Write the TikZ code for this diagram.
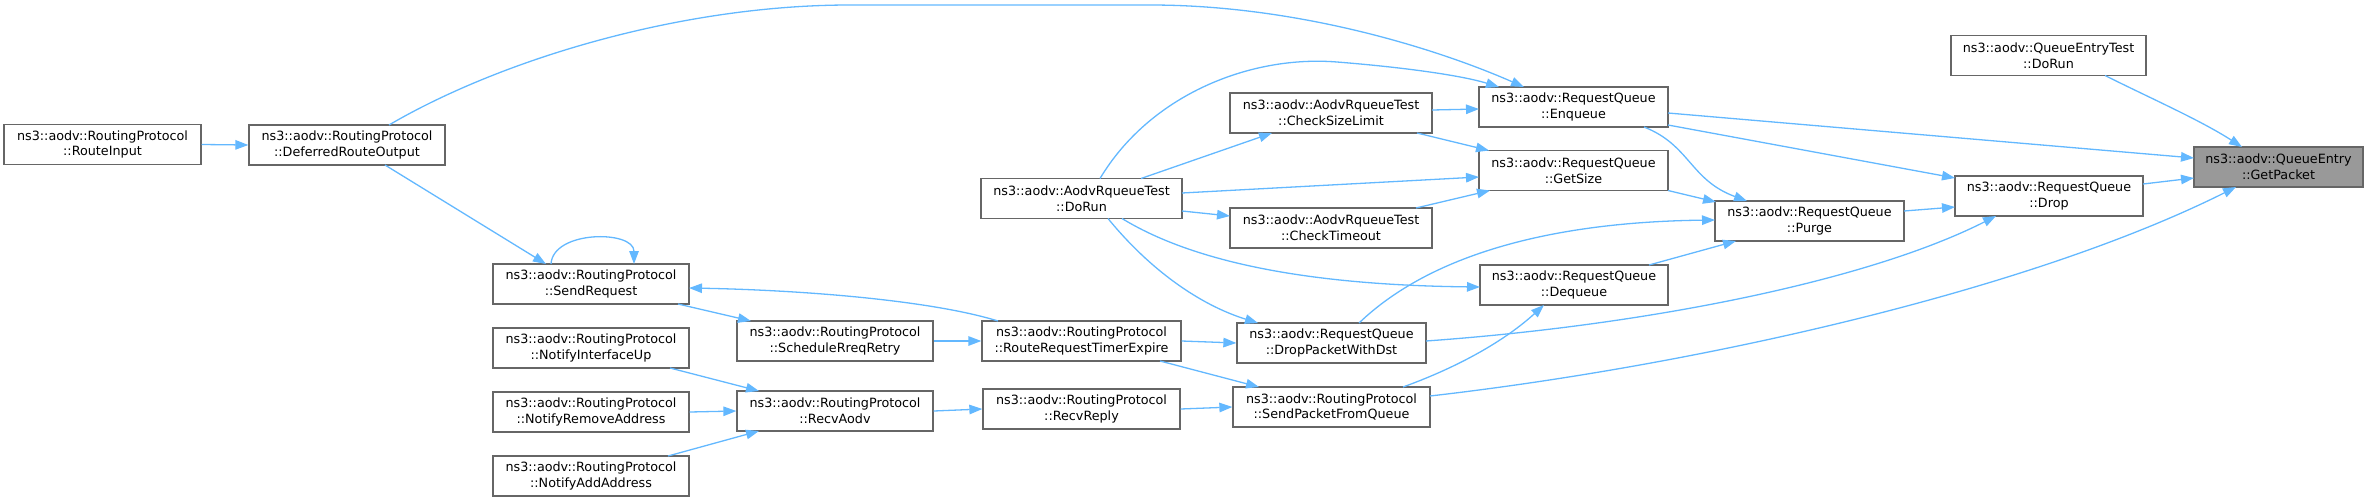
\documentclass[tikz,border=0pt]{standalone}
\usepackage{fontspec}
\setmainfont{DejaVu Sans}
\usetikzlibrary{arrows.meta}
\definecolor{edgeblue}{HTML}{63B8FF}
\definecolor{boxgray}{HTML}{666666}
\definecolor{selgray}{HTML}{999999}
\tikzset{
  fn/.style={draw=boxgray, fill=white, line width=1.3pt, minimum height=40pt, inner sep=0pt, align=center, font=\fontsize{12.75pt}{15.7pt}\selectfont},
  sel/.style={fn, fill=selgray},
  call/.style={draw=edgeblue, line width=1.3pt, -{Triangle[length=13pt,width=9.5pt]}},
}
\begin{document}
\begin{tikzpicture}[x=1pt,y=-1pt]
\useasboundingbox (0,0) rectangle (2369,501);
% nodes
\node[fn, minimum width=197pt] (RI) at (102.5,144.5) {ns3::aodv::RoutingProtocol\\::RouteInput};
\node[fn, minimum width=196pt] (DRO) at (347,145) {ns3::aodv::RoutingProtocol\\::DeferredRouteOutput};
\node[fn, minimum width=196pt] (SR) at (591,284) {ns3::aodv::RoutingProtocol\\::SendRequest};
\node[fn, minimum width=196pt] (NIU) at (591,348) {ns3::aodv::RoutingProtocol\\::NotifyInterfaceUp};
\node[fn, minimum width=196pt] (NRA) at (591,412) {ns3::aodv::RoutingProtocol\\::NotifyRemoveAddress};
\node[fn, minimum width=196pt] (NAA) at (591,476) {ns3::aodv::RoutingProtocol\\::NotifyAddAddress};
\node[fn, minimum width=196pt] (SRR) at (835,341) {ns3::aodv::RoutingProtocol\\::ScheduleRreqRetry};
\node[fn, minimum width=196pt] (RA) at (835,411) {ns3::aodv::RoutingProtocol\\::RecvAodv};
\node[fn, minimum width=201pt] (DR) at (1081.5,198.5) {ns3::aodv::AodvRqueueTest\\::DoRun};
\node[fn, minimum width=199pt] (RRTE) at (1081.5,341) {ns3::aodv::RoutingProtocol\\::RouteRequestTimerExpire};
\node[fn, minimum width=197pt] (RR) at (1081.5,409) {ns3::aodv::RoutingProtocol\\::RecvReply};
\node[fn, minimum width=202pt] (CSL) at (1331,113) {ns3::aodv::AodvRqueueTest\\::CheckSizeLimit};
\node[fn, minimum width=202pt] (CT) at (1331,228) {ns3::aodv::AodvRqueueTest\\::CheckTimeout};
\node[fn, minimum width=189pt] (DPWD) at (1331.5,343) {ns3::aodv::RequestQueue\\::DropPacketWithDst};
\node[fn, minimum width=197pt] (SPFQ) at (1331.5,407) {ns3::aodv::RoutingProtocol\\::SendPacketFromQueue};
\node[fn, minimum width=189pt] (ENQ) at (1573.5,107) {ns3::aodv::RequestQueue\\::Enqueue};
\node[fn, minimum width=189pt] (GS) at (1573.5,170.5) {ns3::aodv::RequestQueue\\::GetSize};
\node[fn, minimum width=188pt] (DQ) at (1574,285) {ns3::aodv::RequestQueue\\::Dequeue};
\node[fn, minimum width=189pt] (PU) at (1809.5,221) {ns3::aodv::RequestQueue\\::Purge};
\node[fn, minimum width=188pt] (DROP) at (2049,196) {ns3::aodv::RequestQueue\\::Drop};
\node[fn, minimum width=195pt] (QET) at (2048.5,55.5) {ns3::aodv::QueueEntryTest\\::DoRun};
\node[sel, minimum width=169pt] (GP) at (2278.5,167) {ns3::aodv::QueueEntry\\::GetPacket};
% edges
\draw[call] (RI.east) -- (DRO.west);
\draw[call] ([shift={(42,-20)}]DRO.center) .. controls (500,60) and (680,5) .. (850,5) -- (1150,5) .. controls (1300,5) and (1440,50) .. ([shift={(-49.5,-20)}]ENQ.center);
\draw[call] ([shift={(38,20)}]DRO.center) -- ([shift={(-45,-20)}]SR.center);
\draw[call] ([shift={(-40,-20)}]SR.center) .. controls +(2,-34) and +(0,-34) .. ([shift={(43,-20)}]SR.center);
\draw[call] ([shift={(87,20)}]SR.center) -- ([shift={(-84,-20)}]SRR.center);
\draw[call] ([shift={(-83.5,-20)}]RRTE.center) .. controls (930,300) and (800,290) .. ([shift={(98,4)}]SR.center);
\draw[call] (SRR.east) -- (RRTE.west);
\draw[call] ([shift={(79,20)}]NIU.center) -- ([shift={(-76,-20)}]RA.center);
\draw[call] (NRA.east) -- (RA.west);
\draw[call] ([shift={(77,-20)}]NAA.center) -- ([shift={(-76,20)}]RA.center);
\draw[call] (RA.east) -- (RR.west);
\draw[call] (RR.east) -- (SPFQ.west);
\draw[call] (RRTE.east) -- (DPWD.west);
\draw[call] ([shift={(78.5,20)}]RRTE.center) -- ([shift={(-72.5,-20)}]SPFQ.center);
\draw[call] ([shift={(18.5,-20)}]DR.center) .. controls (1150,95) and (1250,55) .. (1337,62) .. controls (1400,67) and (1460,75) .. ([shift={(-74.5,-20)}]ENQ.center);
\draw[call] ([shift={(59.5,-20)}]DR.center) -- ([shift={(-59,20)}]CSL.center);
\draw[call] ([shift={(100.5,-5.5)}]DR.center) -- ([shift={(-94.5,6.5)}]GS.center);
\draw[call] ([shift={(100.5,12.5)}]DR.center) -- ([shift={(-101,-12)}]CT.center);
\draw[call] ([shift={(40.5,20)}]DR.center) .. controls (1190,260) and (1300,285) .. ([shift={(-94,2)}]DQ.center);
\draw[call] ([shift={(26.5,20)}]DR.center) .. controls (1150,270) and (1200,305) .. ([shift={(-73.5,-20)}]DPWD.center);
\draw[call] ([shift={(101,-3)}]CSL.center) -- ([shift={(-94.5,2)}]ENQ.center);
\draw[call] ([shift={(86,20)}]CSL.center) -- ([shift={(-84.5,-20)}]GS.center);
\draw[call] ([shift={(85,-20)}]CT.center) -- ([shift={(-83.5,20)}]GS.center);
\draw[call] ([shift={(27.5,-20)}]DPWD.center) .. controls (1430,255) and (1550,222) .. ([shift={(-94.5,-1)}]PU.center);
\draw[call] ([shift={(94.5,-2)}]DPWD.center) .. controls (1650,325) and (1870,280) .. ([shift={(-53,20)}]DROP.center);
\draw[call] ([shift={(71.5,-20)}]SPFQ.center) .. controls (1450,370) and (1500,345) .. ([shift={(-30,20)}]DQ.center);
\draw[call] ([shift={(98.5,-11)}]SPFQ.center) .. controls (1700,365) and (2030,290) .. ([shift={(-42.5,20)}]GP.center);
\draw[call] ([shift={(94.5,6)}]ENQ.center) -- ([shift={(-84.5,-9)}]GP.center);
\draw[call] ([shift={(94.5,18)}]ENQ.center) -- ([shift={(-94,-18)}]DROP.center);
\draw[call] ([shift={(70.5,20)}]ENQ.center) .. controls (1690,145) and (1690,180) .. ([shift={(-62.5,-20)}]PU.center);
\draw[call] ([shift={(94.5,20)}]GS.center) -- ([shift={(-93.5,-19)}]PU.center);
\draw[call] ([shift={(75,-20)}]DQ.center) -- ([shift={(-73.5,20)}]PU.center);
\draw[call] ([shift={(94.5,-10)}]PU.center) -- ([shift={(-94,11)}]DROP.center);
\draw[call] ([shift={(94,-12)}]DROP.center) -- ([shift={(-84.5,11)}]GP.center);
\draw[call] ([shift={(56.5,20)}]QET.center) .. controls (2150,98) and (2200,120) .. ([shift={(-36.5,-20)}]GP.center);
\end{tikzpicture}
\end{document}
